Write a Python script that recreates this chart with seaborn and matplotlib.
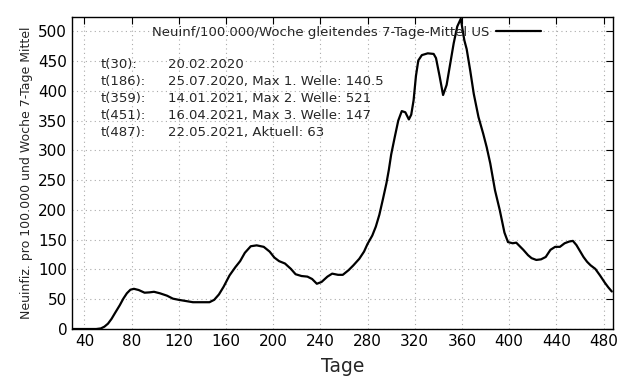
import numpy as np
import pandas as pd
import matplotlib
matplotlib.use("Agg")
import matplotlib.pyplot as plt
import seaborn as sns

# day index and weekly incidence per 100.000 (7-day moving average)
days = [30, 40, 50, 54, 57, 60, 63, 66, 70, 73, 76, 79, 82, 86, 91, 95, 99, 104, 110, 115,
        120, 126, 132, 140, 146, 150, 154, 158, 163, 168, 172, 176, 181, 186, 192, 197, 201,
        205, 210, 215, 219, 224, 229, 233, 237, 241, 246, 250, 255, 259, 264, 268, 273, 277,
        280, 284, 287, 290, 293, 296, 298, 300, 303, 306, 309, 312, 315, 317, 319, 321, 323,
        326, 331, 336, 338, 341, 344, 347, 350, 353, 356, 359, 362, 364, 367, 370, 374, 378,
        381, 384, 388, 392, 396, 399, 403, 406, 409, 412, 416, 419, 423, 427, 431, 435, 439,
        443, 447, 451, 454, 457, 460, 463, 466, 469, 473, 477, 481, 484, 487]
values = [0, 0, 0, 1, 4, 9, 17, 27, 40, 51, 60, 66, 67.5, 65.5, 61, 61.5, 62.5, 60, 56, 51,
          49, 47, 45, 45, 45, 49, 58, 71, 90, 104, 114, 128, 139, 140.5, 138, 130, 120,
          114, 110, 101, 92, 89, 88, 84, 76, 79, 88, 93, 91, 91, 99, 107, 118, 130,
          143, 157, 172, 192, 218, 245, 267, 293, 322, 350, 366, 364, 352, 360, 384, 425, 451,
          460, 463, 462, 455, 425, 393, 410, 445, 480, 508, 521, 485, 470, 434, 395, 356, 328,
          305, 278, 233, 200, 162, 146, 144, 145, 139, 133, 124, 119, 116, 117, 121, 133, 138,
          138, 144, 147, 148, 141, 131, 121, 113, 107, 101, 90, 78, 70, 63]

info_keys = ["t(30):", "t(186):", "t(359):", "t(451):", "t(487):"]
info_vals = ["20.02.2020", "25.07.2020, Max 1. Welle: 140.5", "14.01.2021, Max 2. Welle: 521",
             "16.04.2021, Max 3. Welle: 147", "22.05.2021, Aktuell: 63"]

df = pd.DataFrame({"Tage": days, "Wert": values})

sns.set_style("white")
plt.rcParams['font.family'] = ['DejaVu Sans']

fig = plt.figure(figsize=(6.4, 3.84), dpi=100)
ax = fig.add_axes([0.1125, 0.1432, 0.8453, 0.8125])

sns.lineplot(data=df, x="Tage", y="Wert", color="black", linewidth=1.6, ax=ax,
             label="Neuinf/100.000/Woche gleitendes 7-Tage-Mittel US")

ax.set_xlim(29.5, 488)
ax.set_ylim(0, 524)
ax.set_xticks(np.arange(40, 481, 40))
ax.set_yticks(np.arange(0, 501, 50))
ax.tick_params(direction="in", length=5, width=0.8, top=True, right=True,
               labelsize=11, colors="black")
ax.grid(True, linestyle=(0, (1, 3)), color="#aaaaaa", linewidth=0.8)
for s in ax.spines.values():
    s.set_color("black")
    s.set_linewidth(1.0)

ax.set_xlabel("Tage", fontsize=13.5, labelpad=6)
ax.set_ylabel("Neuinfiz. pro 100.000 und Woche 7-Tage Mittel", fontsize=9, labelpad=4)

leg = ax.legend(loc="upper right", bbox_to_anchor=(0.888, 1.01), frameon=False,
                markerfirst=False, fontsize=9.5, handlelength=3.4, handletextpad=0.5)

for i, (k, v) in enumerate(zip(info_keys, info_vals)):
    y = 0.849 - i * 0.0545
    ax.text(0.052, y, k, transform=ax.transAxes, fontsize=9.5, va="center", ha="left")
    ax.text(0.177, y, v, transform=ax.transAxes, fontsize=9.5, va="center", ha="left")

fig.savefig("out.png", dpi=100)
